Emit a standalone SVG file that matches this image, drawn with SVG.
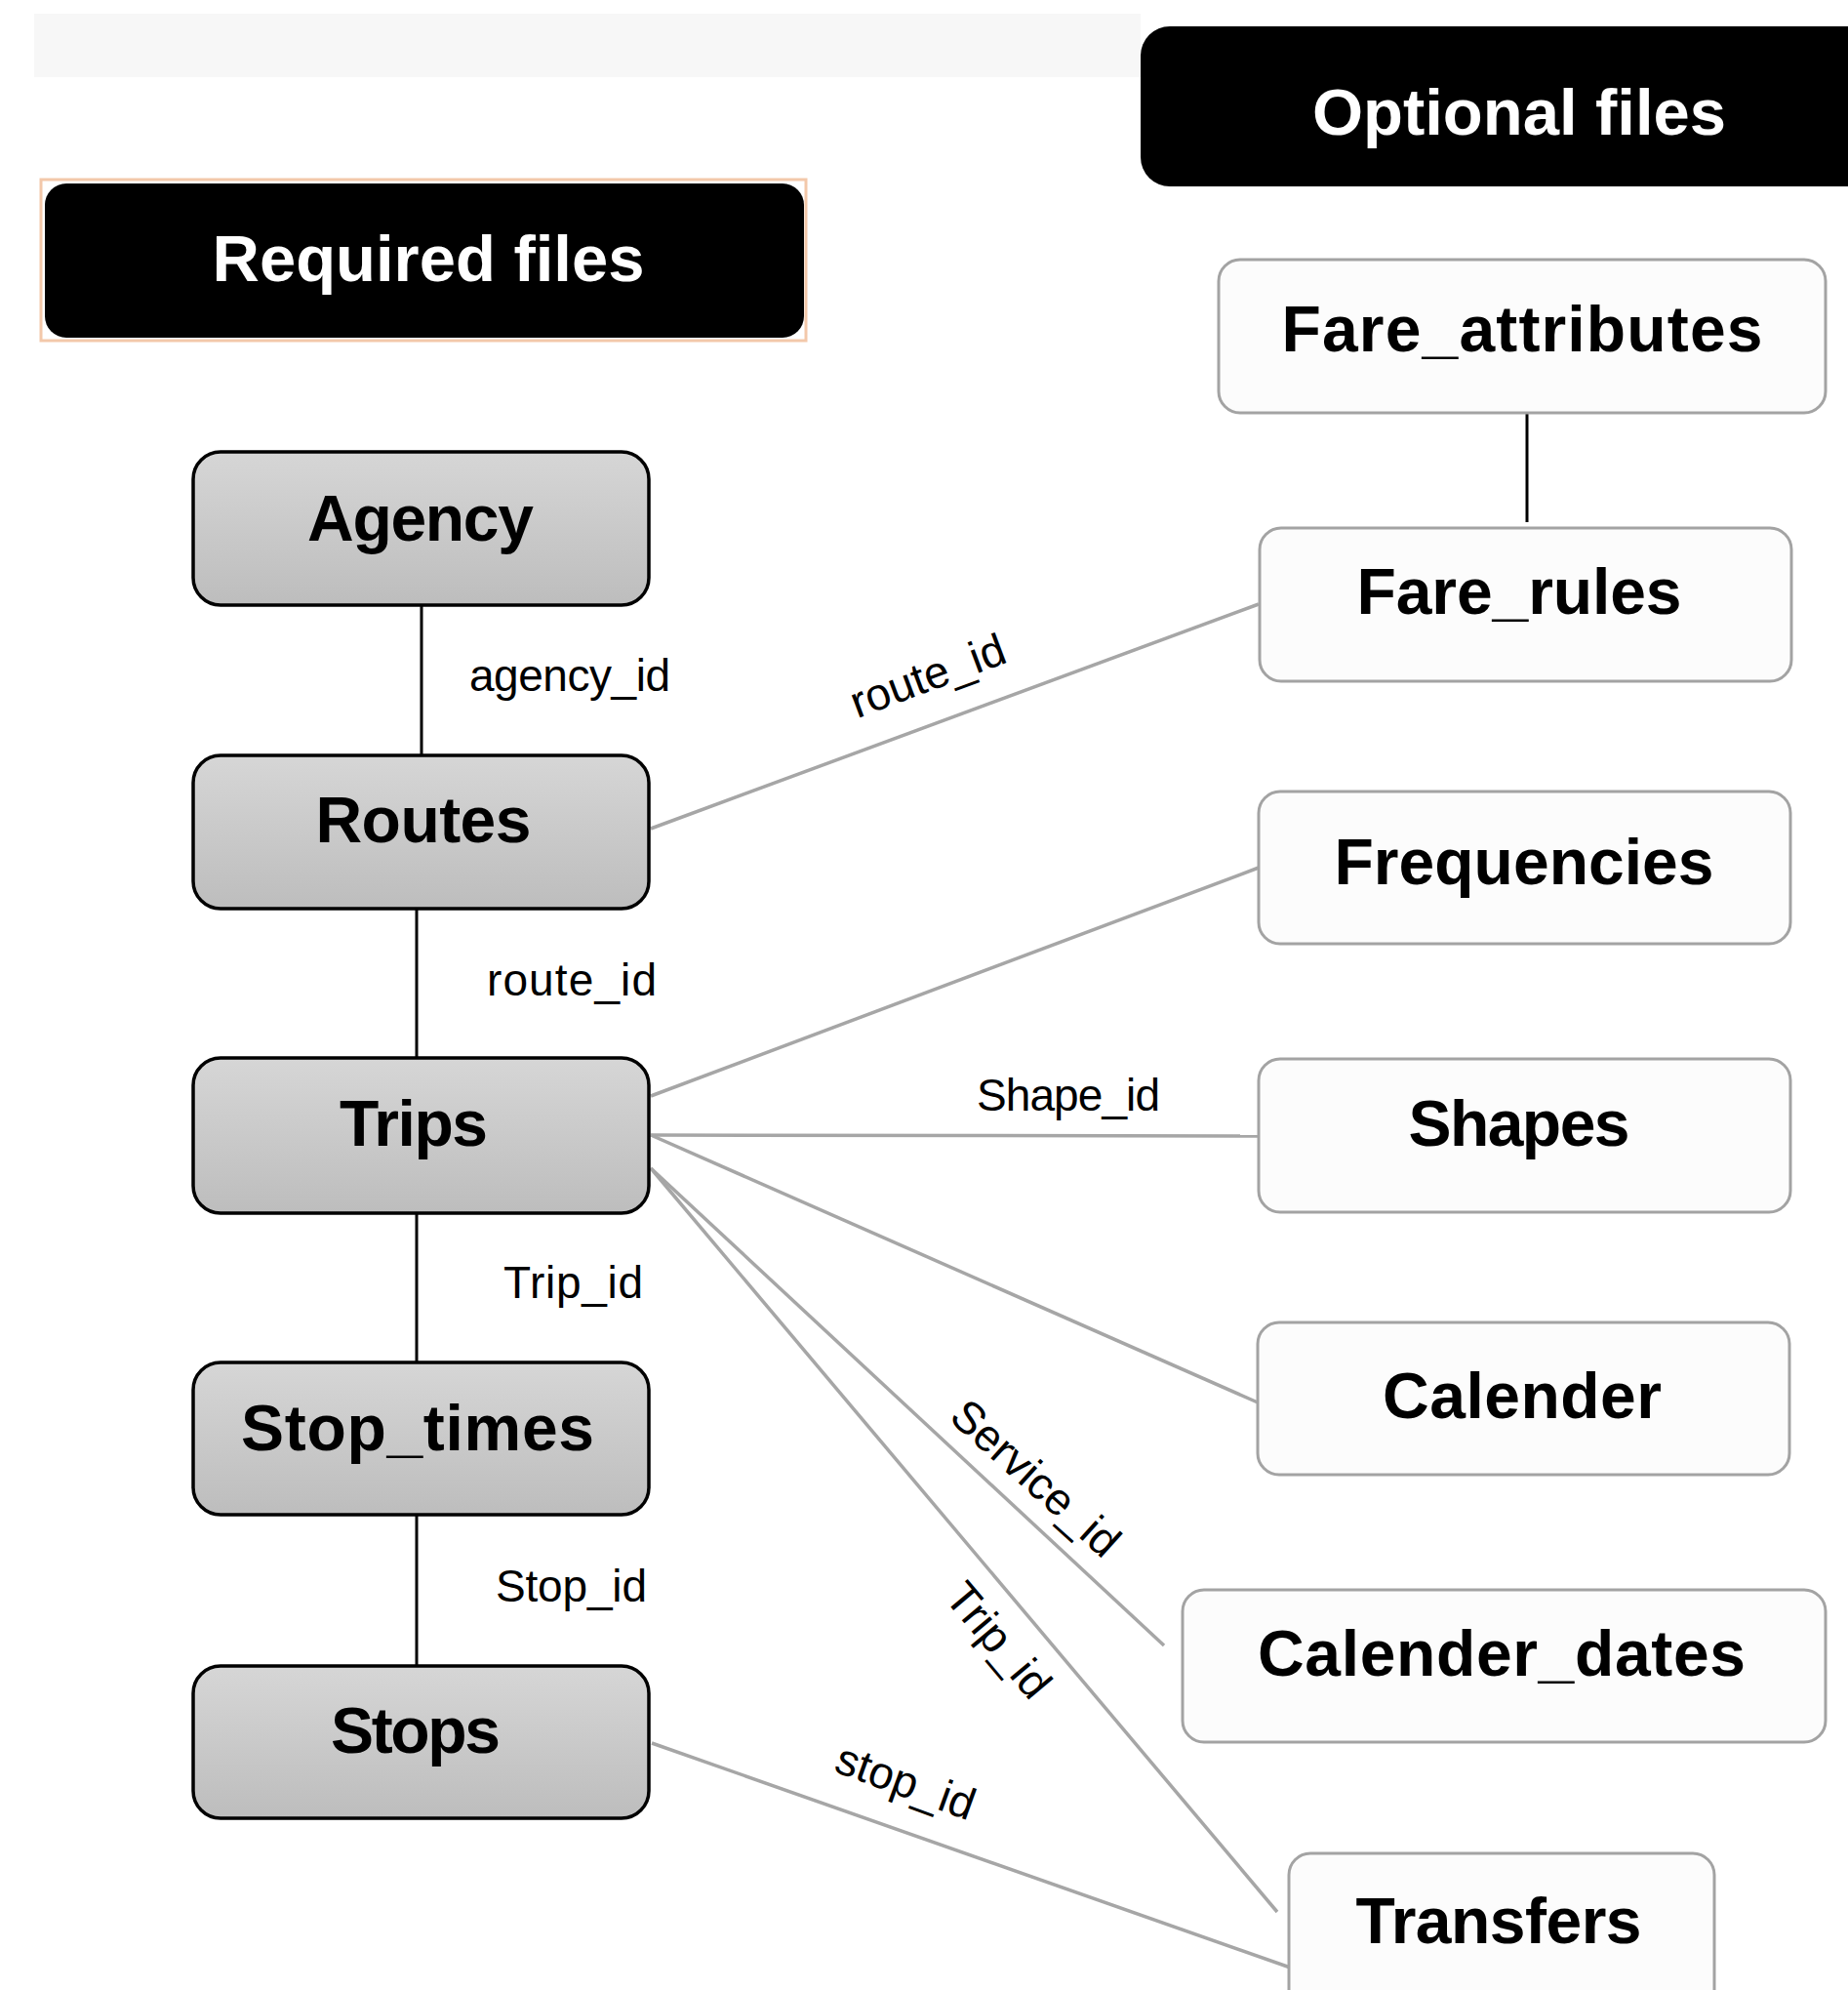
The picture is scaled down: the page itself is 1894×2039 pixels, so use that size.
<svg xmlns="http://www.w3.org/2000/svg" width="1894" height="2039" viewBox="0 0 1894 2039">
<defs>
<linearGradient id="gReq" x1="0" y1="0" x2="0" y2="1">
<stop offset="0" stop-color="#d6d6d6"/>
<stop offset="1" stop-color="#bdbdbd"/>
</linearGradient>
<style>
.req{fill:url(#gReq);stroke:#000;stroke-width:3.5}
.opt{fill:#fcfcfc;stroke:#a3a3a3;stroke-width:3}
.hdr{fill:#000}
.nt{font-family:"Liberation Sans",Arial,sans-serif;font-weight:bold;font-size:66px;fill:#000;text-anchor:middle}
.ht{font-family:"Liberation Sans",Arial,sans-serif;font-weight:bold;font-size:67px;fill:#fff;text-anchor:middle}
.lbl{font-family:"Liberation Sans",Arial,sans-serif;font-size:46px;fill:#000}
.lblc{font-family:"Liberation Sans",Arial,sans-serif;font-size:46px;fill:#000;text-anchor:middle}
.cb{stroke:#000;stroke-width:3;fill:none}
.cg{stroke:#a6a6a6;stroke-width:3.5;fill:none}
</style>
</defs>
<rect width="1894" height="2039" fill="#fff"/>
<rect x="35" y="14" width="1134" height="65" fill="#f7f7f7"/>

<g id="connectors">
<line class="cb" x1="432" y1="620" x2="432" y2="774"/>
<line class="cb" x1="427" y1="931" x2="427" y2="1084"/>
<line class="cb" x1="427" y1="1243" x2="427" y2="1396"/>
<line class="cb" x1="427" y1="1552" x2="427" y2="1707"/>
<line class="cb" x1="1565" y1="424" x2="1565" y2="535"/>
<line class="cg" x1="667" y1="849" x2="1290" y2="619"/>
<line class="cg" x1="667" y1="1123" x2="1290" y2="889"/>
<line class="cg" x1="667" y1="1163" x2="1290" y2="1164"/>
<line class="cg" x1="667" y1="1163" x2="1289" y2="1437"/>
<line class="cg" x1="667" y1="1197" x2="1193" y2="1686"/>
<line class="cg" x1="667" y1="1197" x2="1309" y2="1959"/>
<line class="cg" x1="668" y1="1786" x2="1328" y2="2018"/>
<text class="lbl" x="481" y="708" textLength="206">agency_id</text>
<text class="lbl" x="499" y="1020" textLength="174">route_id</text>
<text class="lbl" x="516" y="1330" textLength="143">Trip_id</text>
<text class="lbl" x="508" y="1641" textLength="155">Stop_id</text>
<text class="lbl" x="1001" y="1138" textLength="188">Shape_id</text>
<text class="lblc" transform="translate(951,693) rotate(-20.5)" y="15">route_id</text>
<text class="lblc" transform="translate(1061,1515) rotate(42)" y="15">Service_id</text>
<text class="lblc" transform="translate(1023,1681) rotate(50)" y="15">Trip_id</text>
<text class="lblc" transform="translate(928,1826) rotate(20)" y="15">stop_id</text>
</g>

<g id="header-required">
<rect x="42" y="184" width="784" height="165" fill="#fff" stroke="#f3c8aa" stroke-width="3"/>
<rect class="hdr" x="46" y="188" width="778" height="158" rx="22"/>
<text class="ht" x="439" y="288" textLength="443">Required files</text>
</g>
<g id="header-optional">
<rect class="hdr" x="1169" y="27" width="780" height="164" rx="30"/>
<text class="ht" x="1557" y="138" textLength="424">Optional files</text>
</g>

<g id="agency"><rect class="req" x="198" y="463" width="467" height="157" rx="28"/><text class="nt" x="431" y="554" textLength="232">Agency</text></g>
<g id="routes"><rect class="req" x="198" y="774" width="467" height="157" rx="28"/><text class="nt" x="434" y="863" textLength="221">Routes</text></g>
<g id="trips"><rect class="req" x="198" y="1084" width="467" height="159" rx="28"/><text class="nt" x="424" y="1174" textLength="152">Trips</text></g>
<g id="stop_times"><rect class="req" x="198" y="1396" width="467" height="156" rx="28"/><text class="nt" x="428" y="1486" textLength="362">Stop_times</text></g>
<g id="stops"><rect class="req" x="198" y="1707" width="467" height="156" rx="28"/><text class="nt" x="426" y="1796" textLength="174">Stops</text></g>

<g id="fare_attributes"><rect class="opt" x="1249" y="266" width="622" height="157" rx="22"/><text class="nt" x="1560" y="360" textLength="493">Fare_attributes</text></g>
<g id="fare_rules"><rect class="opt" x="1291" y="541" width="545" height="157" rx="22"/><text class="nt" x="1557" y="629" textLength="333">Fare_rules</text></g>
<g id="frequencies"><rect class="opt" x="1290" y="811" width="545" height="156" rx="22"/><text class="nt" x="1562" y="906" textLength="389">Frequencies</text></g>
<g id="shapes"><rect class="opt" x="1290" y="1085" width="545" height="157" rx="22"/><text class="nt" x="1557" y="1174" textLength="227">Shapes</text></g>
<g id="calender"><rect class="opt" x="1289" y="1355" width="545" height="156" rx="22"/><text class="nt" x="1560" y="1453" textLength="286">Calender</text></g>
<g id="calender_dates"><rect class="opt" x="1212" y="1629" width="659" height="156" rx="22"/><text class="nt" x="1539" y="1717" textLength="500">Calender_dates</text></g>
<g id="transfers"><rect class="opt" x="1321" y="1899" width="436" height="170" rx="22"/><text class="nt" x="1536" y="1991" textLength="293">Transfers</text></g>
</svg>
